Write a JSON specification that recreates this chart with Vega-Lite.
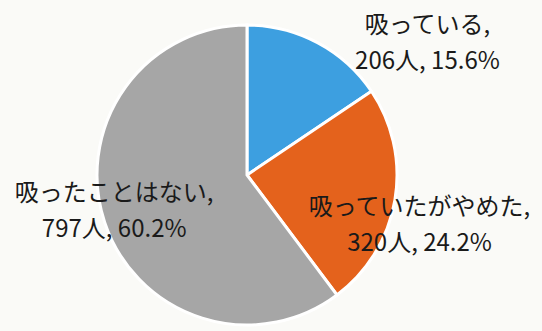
{
  "$schema": "https://vega.github.io/schema/vega-lite/v6.json",
  "width": 494,
  "height": 312,
  "autosize": {"type": "none"},
  "padding": {"left": 0, "right": 48, "top": 19, "bottom": 0},
  "background": "#fafaf7",
  "view": {"stroke": null},
  "data": {
    "values": [
      {"order": 1, "category": "吸っている", "count": 206, "pct": 15.6, "label": "吸っている,\n206人, 15.6%"},
      {"order": 2, "category": "吸っていたがやめた", "count": 320, "pct": 24.2, "label": "吸っていたがやめた,\n320人, 24.2%"},
      {"order": 3, "category": "吸ったことはない", "count": 797, "pct": 60.2, "label": "吸ったことはない,\n797人, 60.2%"}
    ]
  },
  "transform": [
    {"stack": "count", "groupby": [], "sort": [{"field": "order", "order": "ascending"}], "as": ["start", "end"]},
    {"calculate": "(datum.start + datum.end) / 2", "as": "mid"}
  ],
  "layer": [
    {
      "mark": {"type": "arc", "outerRadius": 150, "stroke": "white", "strokeWidth": 3},
      "encoding": {
        "theta": {"field": "start", "type": "quantitative", "scale": {"domain": [0, 1323]}},
        "theta2": {"field": "end"},
        "color": {
          "field": "category",
          "type": "nominal",
          "scale": {"domain": ["吸っている", "吸っていたがやめた", "吸ったことはない"], "range": ["#3d9fe0", "#e4621c", "#a6a6a6"]},
          "legend": null
        }
      }
    },
    {
      "transform": [{"filter": "datum.order == 1"}],
      "mark": {"type": "text", "radius": 150, "dx": 110, "dy": -17, "lineBreak": "\n", "lineHeight": 36, "font": "Noto Sans CJK JP", "fontSize": 24, "color": "#1a1a1a", "align": "center", "baseline": "middle"},
      "encoding": {"theta": {"field": "mid", "type": "quantitative"}, "text": {"field": "label"}}
    },
    {
      "transform": [{"filter": "datum.order == 2"}],
      "mark": {"type": "text", "radius": 175, "dx": 0, "dy": 4, "lineBreak": "\n", "lineHeight": 36, "font": "Noto Sans CJK JP", "fontSize": 24, "color": "#1a1a1a", "align": "center", "baseline": "middle"},
      "encoding": {"theta": {"field": "mid", "type": "quantitative"}, "text": {"field": "label"}}
    },
    {
      "transform": [{"filter": "datum.order == 3"}],
      "mark": {"type": "text", "radius": 140, "dx": 0, "dy": -25, "lineBreak": "\n", "lineHeight": 36, "font": "Noto Sans CJK JP", "fontSize": 24, "color": "#1a1a1a", "align": "center", "baseline": "middle"},
      "encoding": {"theta": {"field": "mid", "type": "quantitative"}, "text": {"field": "label"}}
    }
  ]
}
